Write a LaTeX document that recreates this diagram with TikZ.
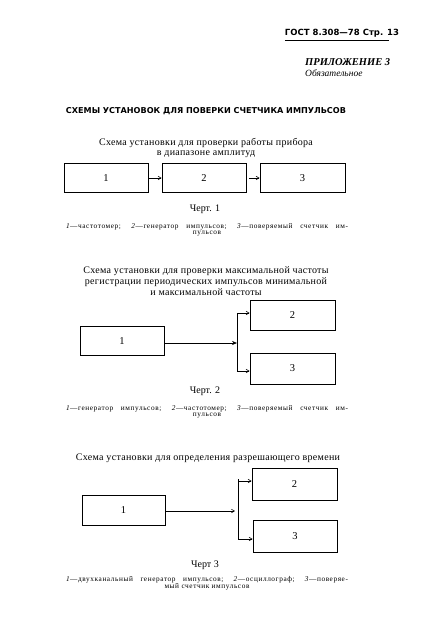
\documentclass[tikz,border=0pt]{standalone}
\usepackage{fontspec}
\setmainfont{Liberation Serif}
\newfontfamily\hsans{DejaVu Sans}
\newfontfamily\ttlfont{Liberation Serif}[LetterSpace=3]
\newfontfamily\legfont{Liberation Serif}[LetterSpace=8]
\usetikzlibrary{arrows.meta}
\begin{document}
\begin{tikzpicture}[x=1pt,y=-1pt,
  box/.style={draw, line width=0.8pt, minimum width=84pt, minimum height=29pt, inner sep=0pt, font=\fontsize{10.5}{12}\selectfont},
  conn/.style={line width=0.6pt},
  arr/.style={conn, -{Straight Barb[length=3pt,width=3.5pt]}},
  farr/.style={conn, -{Stealth[length=5pt,width=4pt]}},
  ttl/.style={align=center, inner sep=0pt, font=\ttlfont\fontsize{10}{10.8}\selectfont},
  chert/.style={inner sep=0pt, font=\fontsize{10}{11}\selectfont},
  leg/.style={inner sep=0pt, font=\legfont\fontsize{7.3}{7.5}\selectfont},
  hdr/.style={inner sep=0pt, font=\hsans\bfseries\fontsize{8.5}{9}\selectfont},
  big/.style={inner sep=0pt, font=\hsans\bfseries\fontsize{8.1}{10}\selectfont}
]
\fill[white] (0,0) rectangle (422,624);
\useasboundingbox (0,0) rectangle (422,624);

% header
\node[hdr] (head) at (342,33) {ГОСТ 8.308—78 Стр. 13};
\draw[line width=1pt] ([yshift=-3.5pt]head.south west) -- ([yshift=-3.5pt,xshift=-10pt]head.south east);
\node[inner sep=0pt, anchor=west, font=\bfseries\itshape\fontsize{10.5}{11}\selectfont] (app) at (305,62) {ПРИЛОЖЕНИЕ 3};
\node[inner sep=0pt, anchor=west, font=\itshape\fontsize{9.5}{10}\selectfont] (obl) at (305,73) {Обязательное};

\node[big] (title) at (206,111) {СХЕМЫ УСТАНОВОК ДЛЯ ПОВЕРКИ СЧЕТЧИКА ИМПУЛЬСОВ};

% chart 1
\node[ttl] (t1) at (206,148) {Схема установки для проверки работы прибора\\в диапазоне амплитуд};
\node[box] (a1) at (106,178) {1};
\node[box] (a2) at (204,178) {2};
\node[box, minimum width=85pt] (a3) at (302.5,178) {3};
\draw[arr] (a1.east) -- (a2.west);
\draw[arr] ([xshift=3pt]a2.east) -- (a3.west);
\node[chert] (ch1) at (205,209) {Черт. 1};
\node[leg] (l1a) at (207,227) {\makebox[282pt][s]{\textit{1}—частотомер; \textit{2}—генератор импульсов; \textit{3}—поверяемый счетчик им-}};
\node[leg] (l1b) at (207,234) {пульсов};

% chart 2
\node[ttl] (t2) at (206,281) {Схема установки для проверки максимальной частоты\\регистрации периодических импульсов минимальной\\и максимальной частоты};
\node[box] (b1) at (122,341) {1};
\node[box, minimum width=85pt, minimum height=30pt] (b2) at (292.5,315) {2};
\node[box, minimum width=85pt, minimum height=31pt] (b3) at (292.5,368.5) {3};
\coordinate (v2t) at (237,313);
\coordinate (v2b) at (237,371);
\coordinate (j2) at (237,343);
\draw[conn] (v2t) -- (v2b);
\draw[farr] (b1.east |- j2) -- (j2);
\draw[arr] (v2t) -- (v2t -| b2.west);
\draw[arr] (v2b) -- (v2b -| b3.west);
\node[chert] (ch2) at (205,391) {Черт. 2};
\node[leg] (l2a) at (207,409) {\makebox[282pt][s]{\textit{1}—генератор импульсов; \textit{2}—частотомер; \textit{3}—поверяемый счетчик им-}};
\node[leg] (l2b) at (207,416) {пульсов};

% chart 3
\node[ttl] (t3) at (208,458) {Схема установки для определения разрешающего времени};
\node[box, minimum width=83pt, minimum height=30pt] (c1) at (123.5,510) {1};
\node[box, minimum width=85pt, minimum height=32pt] (c2) at (294.5,484) {2};
\node[box, minimum width=84pt, minimum height=32pt] (c3) at (295,536) {3};
\coordinate (v3t) at (238,479);
\coordinate (v3b) at (238,540);
\coordinate (j3) at (235,511);
\draw[conn] (v3t) -- (v3b);
\draw[arr] (c1.east |- j3) -- (j3);
\draw[arr] (v3t |- c2.west) ++(0,-3) coordinate (v3a) (v3a) -- (v3a -| c2.west);
\draw[arr] (v3b) ++(0,-1) coordinate (v3c) (v3c) -- (v3c -| c3.west);
\node[chert] (ch3) at (205,565) {Черт 3};
\node[leg] (l3a) at (207,580) {\makebox[282pt][s]{\textit{1}—двухканальный генератор импульсов; \textit{2}—осциллограф; \textit{3}—поверяе-}};
\node[leg] (l3b) at (207,587) {мый счетчик импульсов};
\end{tikzpicture}
\end{document}
